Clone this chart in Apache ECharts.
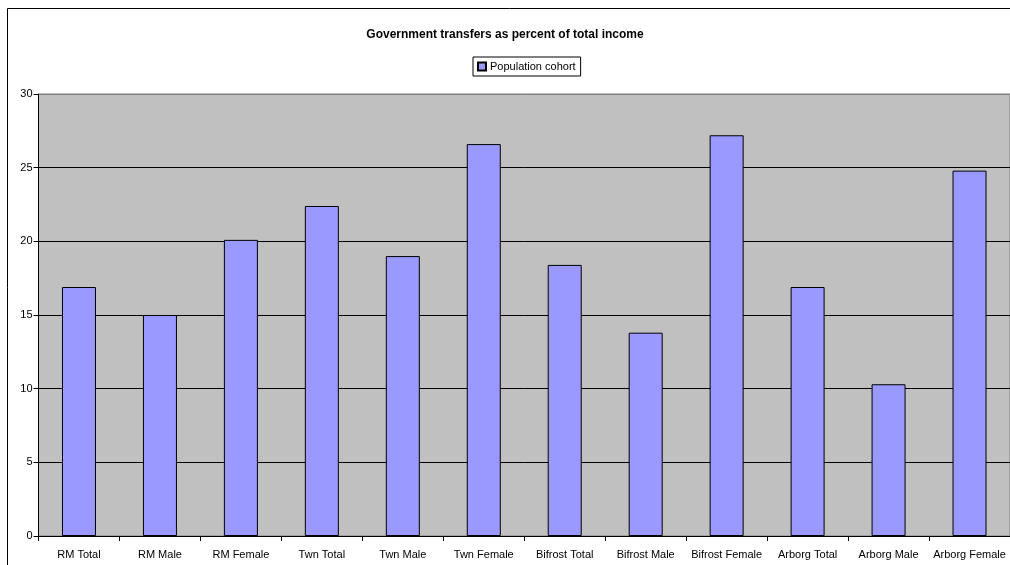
<!DOCTYPE html>
<html>
<head>
<meta charset="utf-8">
<script src="https://cdn.jsdelivr.net/npm/echarts@6/dist/echarts.min.js"></script>
<style>
html,body{margin:0;padding:0;background:#fff;}
#chart{width:1010px;height:565px;}
</style>
</head>
<body>
<div id="chart"></div>
<script>
const titleText = 'Government transfers as percent of total income';
const seriesName = 'Population cohort';
const categories = ['RM Total','RM Male','RM Female','Twn Total','Twn Male','Twn Female','Bifrost Total','Bifrost Male','Bifrost Female','Arborg Total','Arborg Male','Arborg Female'];
const values = [16.9, 15.0, 20.1, 22.4, 19.0, 26.6, 18.4, 13.8, 27.2, 16.9, 10.3, 24.8];
const yTicks = [0, 5, 10, 15, 20, 25, 30];

const chart = echarts.init(document.getElementById('chart'), null, {renderer:'canvas'});
const font = 'Liberation Sans, Arial, sans-serif';
chart.setOption({
  animation: false,
  backgroundColor: '#fff',
  textStyle: {fontFamily: font},
  graphic: [{
    type: 'rect', shape: {x: 7.5, y: 8.5, width: 1100, height: 700},
    style: {fill: 'none', stroke: '#000', lineWidth: 1}, z: -1
  }],
  title: {
    text: titleText, left: 'center', top: 24,
    textStyle: {fontFamily: font, fontSize: 12, fontWeight: 'bold', color: '#000'}
  },
  legend: {
    data: [seriesName], left: 473, top: 57,
    backgroundColor: '#fff', borderColor: '#000', borderWidth: 1,
    padding: [4, 5, 4, 4], itemWidth: 8, itemHeight: 8, itemGap: 5,
    textStyle: {fontFamily: font, fontSize: 11, color: '#000', padding: [0,0,0,-1]},
    icon: 'rect'
  },
  grid: {
    left: 38.5, right: -4, top: 94, bottom: 29,
    show: true, backgroundColor: '#C0C0C0', borderColor: '#808080', borderWidth: 1
  },
  xAxis: {
    type: 'category', data: categories,
    axisLine: {lineStyle: {color: '#000', width: 1}},
    axisTick: {show: true, length: 5, alignWithLabel: false, lineStyle: {color: '#000'}},
    axisLabel: {fontFamily: font, fontSize: 11, color: '#000', margin: 13, interval: 0}
  },
  yAxis: {
    type: 'value', min: yTicks[0], max: yTicks[yTicks.length-1], interval: 5,
    axisLine: {show: true, lineStyle: {color: '#000', width: 1}},
    axisTick: {show: true, length: 5, lineStyle: {color: '#000'}},
    axisLabel: {fontFamily: font, fontSize: 11, color: '#000', margin: 6},
    splitLine: {show: true, lineStyle: {color: ['#000','#000','#000','#000','#000','#000','#808080'], width: 1}}
  },
  series: [{
    name: seriesName, type: 'bar', data: values, barWidth: 34,
    itemStyle: {color: '#9999FF', borderColor: '#000', borderWidth: 1}
  }]
});
</script>
</body>
</html>
